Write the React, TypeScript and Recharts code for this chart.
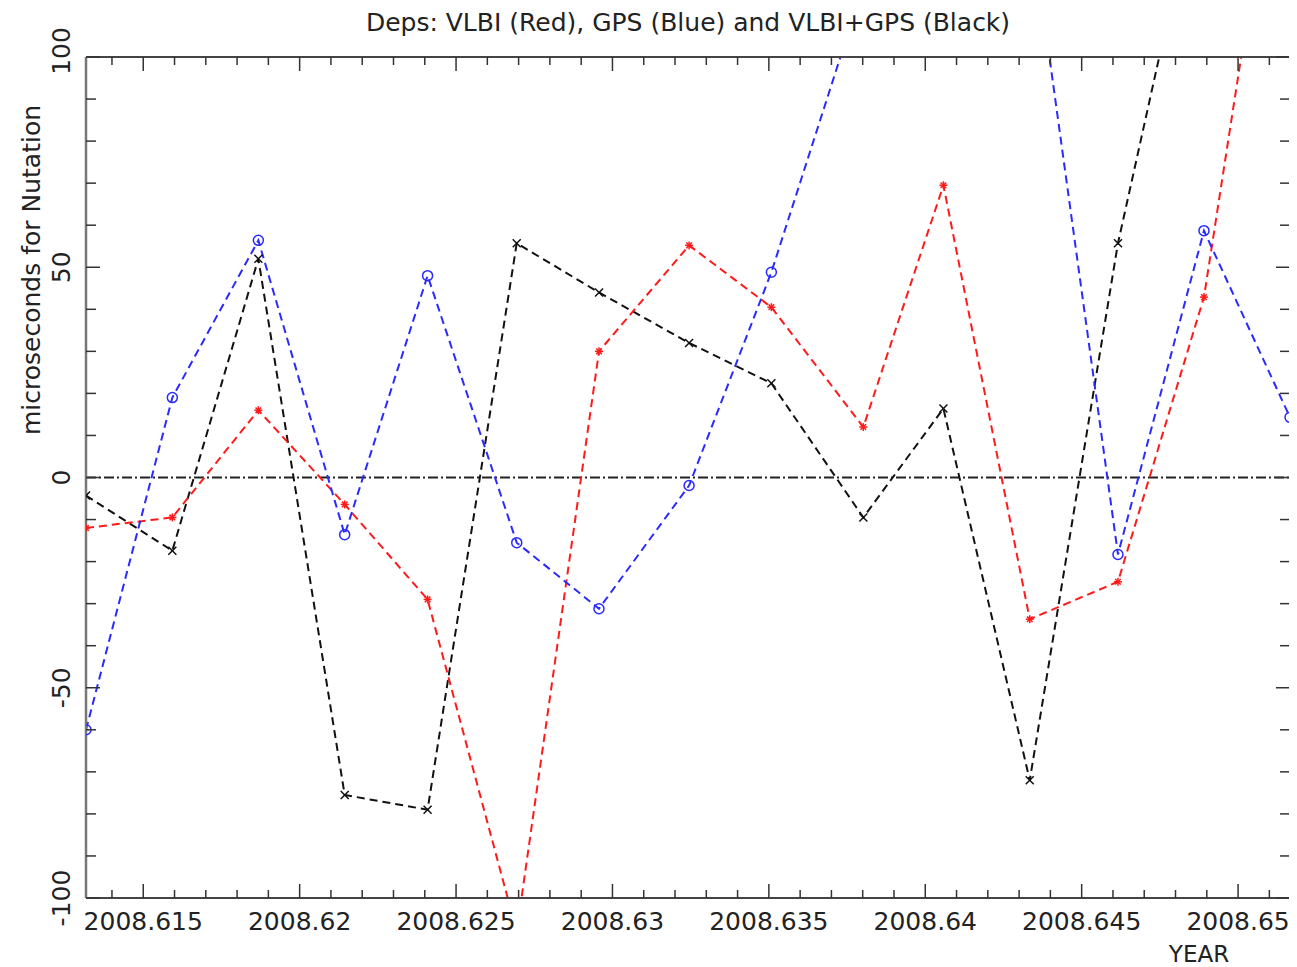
import React from 'react';
import { LineChart, Line, XAxis, YAxis, ReferenceLine } from 'recharts';

// Epochs (year) of the daily solutions
const years = [
  2008.61317, 2008.61593, 2008.61868, 2008.62144, 2008.62409, 2008.62694, 2008.62957,
  2008.63245, 2008.63508, 2008.63802, 2008.64058, 2008.64334, 2008.64616, 2008.64891, 2008.65166,
];
// Deps, microseconds
const vlbiRed = [-12, -9.5, 16, -6.4, -29, -108, 30, 55.2, 40.5, 12, 69.5, -33.7, -24.8, 42.9, 175];
const gpsBlue = [-60, 19, 56.4, -13.6, 48, -15.5, -31.2, -1.9, 48.8, 117, 150, 134, -18.3, 58.7, 14.3];
const comboBlack = [-4.3, -17.4, 52, -75.5, -79, 55.7, 44, 32, 22.4, -9.5, 16.4, -72, 55.7, 148, 130];

const xTicks = [
  2008.614, 2008.615, 2008.616, 2008.617, 2008.618, 2008.619, 2008.62, 2008.621, 2008.622,
  2008.623, 2008.624, 2008.625, 2008.626, 2008.627, 2008.628, 2008.629, 2008.63, 2008.631,
  2008.632, 2008.633, 2008.634, 2008.635, 2008.636, 2008.637, 2008.638, 2008.639, 2008.64,
  2008.641, 2008.642, 2008.643, 2008.644, 2008.645, 2008.646, 2008.647, 2008.648, 2008.649,
  2008.65, 2008.651,
];
const xMajor = [2008.615, 2008.62, 2008.625, 2008.63, 2008.635, 2008.64, 2008.645, 2008.65];
const xMajorLabels = ['2008.615', '2008.62', '2008.625', '2008.63', '2008.635', '2008.64', '2008.645', '2008.65'];

const yTicks = [-100, -90, -80, -70, -60, -50, -40, -30, -20, -10, 0, 10, 20, 30, 40, 50, 60, 70, 80, 90, 100];
const yMajor = [-100, -50, 0, 50, 100];
const yMajorLabels = ['-100', '-50', '0', '50', '100'];

const data = years.map((x, i) => ({ x, red: vlbiRed[i], blue: gpsBlue[i], black: comboBlack[i] }));

const FONT = '"DejaVu Sans", "Liberation Sans", sans-serif';
const TICK_COLOR = '#333';

const majorIndex = (arr: number[], v: number) => arr.findIndex((m) => Math.abs(m - v) < 1e-7);

const XTick = (props: any) => {
  const { x, y, payload, orientation } = props;
  const top = orientation === 'top';
  const idx = majorIndex(xMajor, payload.value);
  const len = idx >= 0 ? 14 : 8;
  return (
    <g>
      <line x1={x} x2={x} y1={y} y2={top ? y + len : y - len} stroke={TICK_COLOR} strokeWidth={1.5} />
      {!top && idx >= 0 && (
        <text x={x} y={y + 32} textAnchor="middle" fontFamily={FONT} fontSize={25} fill="#222">
          {xMajorLabels[idx]}
        </text>
      )}
    </g>
  );
};

const YTick = (props: any) => {
  const { x, y, payload, orientation } = props;
  const right = orientation === 'right';
  const idx = majorIndex(yMajor, payload.value);
  const len = idx >= 0 ? 14 : 10;
  const ly = payload.value === 100 ? y - 6 : y;
  return (
    <g>
      <line x1={x} x2={right ? x - len : x + len} y1={y} y2={y} stroke={TICK_COLOR} strokeWidth={1.5} />
      {!right && idx >= 0 && (
        <text
          x={62}
          y={ly}
          textAnchor="middle"
          transform={`rotate(-90, 62, ${ly})`}
          fontFamily={FONT}
          fontSize={25}
          fill="#222"
        >
          {yMajorLabels[idx]}
        </text>
      )}
    </g>
  );
};

const CircleDot = (props: any) => {
  const { cx, cy, index } = props;
  if (cx == null || cy == null) return <g key={`c${index}`} />;
  return <circle key={`c${index}`} cx={cx} cy={cy} r={5} fill="none" stroke="#2a2aff" strokeWidth={1.5} />;
};

const StarDot = (props: any) => {
  const { cx, cy, index } = props;
  if (cx == null || cy == null) return <g key={`s${index}`} />;
  const s = 4;
  return (
    <g key={`s${index}`} stroke="#ff1a1a" strokeWidth={1.5}>
      <line x1={cx - s} x2={cx + s} y1={cy} y2={cy} />
      <line x1={cx} x2={cx} y1={cy - s} y2={cy + s} />
      <line x1={cx - s * 0.7} x2={cx + s * 0.7} y1={cy - s * 0.7} y2={cy + s * 0.7} />
      <line x1={cx - s * 0.7} x2={cx + s * 0.7} y1={cy + s * 0.7} y2={cy - s * 0.7} />
    </g>
  );
};

const XDot = (props: any) => {
  const { cx, cy, index } = props;
  if (cx == null || cy == null) return <g key={`x${index}`} />;
  const s = 4;
  return (
    <g key={`x${index}`} stroke="#111" strokeWidth={1.5}>
      <line x1={cx - s} x2={cx + s} y1={cy - s} y2={cy + s} />
      <line x1={cx - s} x2={cx + s} y1={cy + s} y2={cy - s} />
    </g>
  );
};

export default function App() {
  const xDomain: [number, number] = [years[0], years[years.length - 1]];
  const yDomain: [number, number] = [-100, 100];
  return (
    <div style={{ width: 1289, height: 959, background: '#fff' }}>
      <LineChart width={1289} height={959} data={data} margin={{ top: 48, right: 6, left: 0, bottom: 0 }}>
        <XAxis
          dataKey="x"
          type="number"
          domain={xDomain}
          allowDataOverflow
          ticks={xTicks}
          interval={0}
          height={69}
          tickSize={0}
          tickMargin={0}
          axisLine={{ stroke: '#444', strokeWidth: 2 }}
          tick={<XTick />}
        />
        <XAxis
          xAxisId="top"
          dataKey="x"
          type="number"
          orientation="top"
          domain={xDomain}
          allowDataOverflow
          ticks={xTicks}
          interval={0}
          height={1}
          tickSize={0}
          tickMargin={0}
          axisLine={{ stroke: '#444', strokeWidth: 2 }}
          tick={<XTick />}
        />
        <YAxis
          type="number"
          domain={yDomain}
          allowDataOverflow
          ticks={yTicks}
          interval={0}
          width={78}
          tickSize={0}
          tickMargin={0}
          axisLine={{ stroke: '#777', strokeWidth: 2.5 }}
          tick={<YTick />}
        />
        <YAxis
          yAxisId="right"
          type="number"
          orientation="right"
          domain={yDomain}
          allowDataOverflow
          ticks={yTicks}
          interval={0}
          width={1}
          tickSize={0}
          tickMargin={0}
          axisLine={{ stroke: '#333', strokeWidth: 2 }}
          tick={<YTick />}
        />
        <ReferenceLine y={0} stroke="#222" strokeWidth={2} strokeDasharray="10 3 2 3" ifOverflow="hidden" />
        <Line
          type="linear"
          dataKey="black"
          stroke="#111"
          strokeWidth={2}
          strokeDasharray="8 5"
          dot={XDot}
          activeDot={false}
          isAnimationActive={false}
        />
        <Line
          type="linear"
          dataKey="red"
          stroke="#ff1a1a"
          strokeWidth={2}
          strokeDasharray="8 5"
          dot={StarDot}
          activeDot={false}
          isAnimationActive={false}
        />
        <Line
          type="linear"
          dataKey="blue"
          stroke="#2a2aff"
          strokeWidth={2}
          strokeDasharray="8 5"
          dot={CircleDot}
          activeDot={false}
          isAnimationActive={false}
        />
        <text x={680} y={23} textAnchor="middle" fontFamily={FONT} fontSize={25} fill="#222">
          Deps: VLBI (Red), GPS (Blue) and VLBI+GPS (Black)
        </text>
        <text
          x={32}
          y={262}
          textAnchor="middle"
          transform="rotate(-90, 32, 262)"
          fontFamily={FONT}
          fontSize={25}
          fill="#222"
        >
          microseconds for Nutation
        </text>
        <text x={1191} y={954} textAnchor="middle" fontFamily={FONT} fontSize={23} fill="#222">
          YEAR
        </text>
      </LineChart>
    </div>
  );
}
